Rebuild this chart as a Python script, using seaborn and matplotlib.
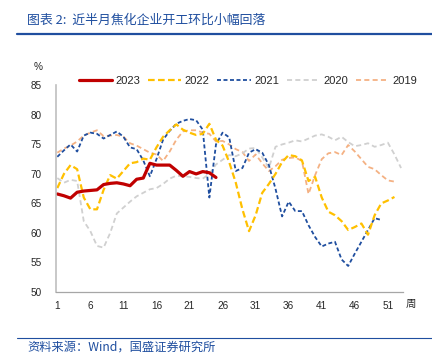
import pandas as pd
import seaborn as sns
import matplotlib.pyplot as plt
from matplotlib.lines import Line2D

# 数据：焦化企业开工率（%），按周
y2023 = [66.6, 66.3, 65.9, 66.9, 67.1, 67.2, 67.3, 68.2, 68.4, 68.5, 68.3, 68.0, 69.1,
         69.3, 71.8, 71.5, 71.5, 71.5, 70.6, 69.6, 70.4, 70.0, 70.4, 70.2, 69.4]
y2022 = [67.6, 70.0, 71.5, 70.8, 66.0, 64.0, 64.0, 67.3, 69.8, 69.2, 70.5, 71.8, 72.0,
         72.6, 72.4, 74.5, 76.3, 77.4, 78.4, 77.5, 77.0, 76.6, 76.8, 78.5, 75.8, 74.8,
         72.0, 68.5, 64.0, 60.3, 63.0, 66.8, 68.3, 70.0, 72.0, 73.2, 73.0, 72.3, 68.8,
         69.5, 66.0, 63.6, 63.0, 62.0, 60.5, 61.0, 61.6, 59.7, 63.0, 65.0, 65.5, 66.1]
y2021 = [72.9, 74.0, 75.0, 73.8, 76.5, 77.0, 76.8, 76.0, 76.6, 77.2, 76.3, 74.5, 74.2,
         72.3, 69.6, 72.5, 75.8, 77.3, 78.5, 79.0, 79.3, 79.1, 77.5, 66.0, 75.0, 77.0,
         76.2, 70.5, 71.0, 73.6, 74.2, 73.6, 71.5, 67.5, 62.8, 65.3, 63.7, 63.7, 61.3,
         59.3, 57.7, 58.2, 58.5, 55.5, 54.4, 56.5, 58.5, 60.5, 62.5, 62.2]
y2020 = [69.3, 68.5, 69.0, 68.8, 62.0, 60.3, 57.8, 57.5, 60.0, 63.3, 64.3, 65.3, 66.2,
         66.8, 67.4, 67.6, 68.3, 69.2, 69.7, 69.6, 69.5, 69.3, 69.2, 70.0, 71.6, 72.4,
         73.2, 73.0, 73.5, 74.3, 74.4, 72.8, 71.0, 74.6, 75.0, 75.3, 75.7, 75.5, 76.0,
         76.5, 76.7, 76.3, 75.7, 76.3, 75.4, 74.7, 74.9, 75.2, 74.6, 74.9, 75.3, 73.3, 71.0]
y2019 = [73.6, 74.3, 74.8, 75.5, 76.5, 77.0, 77.4, 76.4, 76.5, 76.6, 76.3, 75.2, 74.8,
         74.2, 73.6, 73.3, 72.2, 73.8, 75.8, 77.2, 77.4, 77.4, 77.0, 76.8, 75.5, 75.6,
         75.0, 74.2, 73.7, 72.2, 73.3, 71.8, 70.5, 71.3, 72.4, 72.7, 72.8, 72.2, 66.6,
         69.8, 72.5, 73.5, 73.7, 73.2, 74.9, 73.8, 72.5, 71.2, 70.8, 69.8, 68.9, 68.7]

years = ['2023', '2022', '2021', '2020', '2019']
xticks = [1, 6, 11, 16, 21, 26, 31, 36, 41, 46, 51]
yticks = [50, 55, 60, 65, 70, 75, 80, 85]

series = {'2023': y2023, '2022': y2022, '2021': y2021, '2020': y2020, '2019': y2019}
frames = []
for yr, vals in series.items():
    frames.append(pd.DataFrame({'周': range(1, len(vals) + 1), '开工率': vals, '年份': yr}))
df = pd.concat(frames, ignore_index=True)

# 样式
sns.set_theme(style='white')
plt.rcParams['font.family'] = ['Liberation Sans', 'Noto Sans CJK SC', 'DejaVu Sans']
styles = {
    '2023': dict(color='#C00000', lw=2.3, ls='-'),
    '2022': dict(color='#FFC000', lw=1.6, ls=(0, (3.0, 1.5))),
    '2021': dict(color='#1F4E9F', lw=1.3, ls=(0, (2.2, 1.4))),
    '2020': dict(color='#D0D0D0', lw=1.3, ls=(0, (2.8, 1.8))),
    '2019': dict(color='#F4B183', lw=1.3, ls=(0, (2.8, 1.8))),
}

fig = plt.figure(figsize=(4.32, 3.56), dpi=100)
ax = fig.add_axes([0.129, 0.180, 0.804, 0.580])

for yr in ['2019', '2020', '2021', '2022', '2023']:
    st = styles[yr]
    sns.lineplot(data=df[df['年份'] == yr], x='周', y='开工率', ax=ax,
                 color=st['color'], linewidth=st['lw'], linestyle=st['ls'],
                 legend=False)

ax.set_xlim(0.76, 53.3)
ax.set_ylim(50, 85)
ax.set_xticks(xticks)
ax.set_yticks(yticks)
ax.set_xlabel('')
ax.set_ylabel('')
ax.tick_params(axis='x', length=0, pad=6.5, labelsize=7.2, colors='#262626')
ax.tick_params(axis='y', length=2.5, width=0.8, color='#BFBFBF', pad=7.5,
               labelsize=7.2, labelcolor='#262626')
for s in ['top', 'right']:
    ax.spines[s].set_visible(False)
ax.spines['left'].set_color('#BFBFBF')
ax.spines['left'].set_linewidth(1.2)
ax.spines['bottom'].set_color('#A6A6A6')
ax.spines['bottom'].set_linewidth(0.9)

fig.text(38 / 432, 1 - 67 / 356, '%', fontsize=7.2, color='#262626', ha='center', va='center')
fig.text(411 / 432, 1 - 304 / 356, '周', fontsize=7.5, color='#262626', ha='center', va='center',
         family=['Noto Sans CJK SC'])

# 图例
handles = [Line2D([0], [0], color=styles[y]['color'], lw=styles[y]['lw'], ls=styles[y]['ls'])
           for y in years]
leg = fig.legend(handles, years, loc='center', bbox_to_anchor=(0.574, 0.773), ncol=5,
                 frameon=False, fontsize=8, handlelength=3.0, handletextpad=0.3,
                 columnspacing=0.7, borderaxespad=0, borderpad=0)
for t in leg.get_texts():
    t.set_color('#262626')

# 标题与来源
blue = '#1F4E9F'
fig.text(27 / 432, 1 - 20 / 356, '图表 2:  近半月焦化企业开工环比小幅回落', fontsize=9.3,
         color=blue, ha='left', va='center', style='italic',
         family=['Noto Sans CJK SC', 'DejaVu Sans'])
fig.add_artist(Line2D([17 / 432, 1], [1 - 34.3 / 356] * 2, color=blue, lw=1.6))
fig.add_artist(Line2D([17 / 432, 1], [1 - 337.7 / 356] * 2, color=blue, lw=0.8))
fig.text(27 / 432, 1 - 347 / 356, '资料来源：Wind，国盛证券研究所', fontsize=8.8,
         color=blue, ha='left', va='center', style='italic',
         family=['Noto Sans CJK SC', 'DejaVu Sans'])

fig.savefig('out.png', dpi=100)
